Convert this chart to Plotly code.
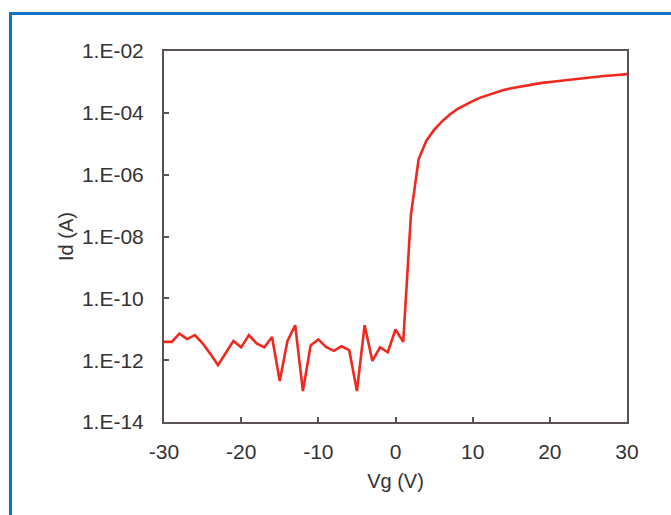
import plotly.graph_objects as go

vg = list(range(-30, 31))
id_a = [
    3.9e-12, 3.9e-12, 7.2e-12, 4.8e-12, 6.5e-12, 3.5e-12, 1.6e-12, 6.9e-13, 1.7e-12, 4.2e-12,
    2.6e-12, 6.5e-12, 3.5e-12, 2.6e-12, 5.6e-12, 2.1e-13, 4.2e-12, 1.35e-11, 1.0e-13, 3.0e-12,
    4.7e-12, 2.7e-12, 2.0e-12, 2.8e-12, 2.1e-12, 1.0e-13, 1.35e-11, 9.5e-13, 2.6e-12, 1.8e-12,
    9.8e-12, 3.9e-12, 5.0e-8, 3.2e-6, 1.26e-5, 2.8e-5, 5.2e-5, 8.7e-5, 1.32e-4, 1.82e-4,
    2.4e-4, 3.1e-4, 3.8e-4, 4.7e-4, 5.5e-4, 6.2e-4, 6.9e-4, 7.8e-4, 8.5e-4, 9.3e-4,
    1.0e-3, 1.07e-3, 1.15e-3, 1.23e-3, 1.32e-3, 1.41e-3, 1.48e-3, 1.55e-3, 1.62e-3, 1.70e-3,
    1.78e-3,
]

y_tickvals = [1e-14, 1e-12, 1e-10, 1e-8, 1e-6, 1e-4, 1e-2]
y_ticktext = ["1.E-14", "1.E-12", "1.E-10", "1.E-08", "1.E-06", "1.E-04", "1.E-02"]
x_tickvals = [-30, -20, -10, 0, 10, 20, 30]
x_ticktext = ["-30", "-20", "-10", "0", "10", "20", "30"]

axis_color = "#5a5252"
font = dict(family="Liberation Sans, Arial, sans-serif", size=21, color="#333333")
title_font = dict(family="Liberation Sans, Arial, sans-serif", size=20, color="#333333")

fig = go.Figure()
fig.add_trace(go.Scatter(
    x=vg, y=id_a, mode="lines",
    line=dict(color="rgb(240,40,30)", width=2.6),
    showlegend=False,
))

fig.update_layout(
    width=671, height=515,
    margin=dict(l=164, r=44, t=51, b=93),
    paper_bgcolor="white", plot_bgcolor="white",
    font=font,
    xaxis=dict(
        range=[-30, 30], tickvals=x_tickvals, ticktext=x_ticktext,
        ticks="inside", ticklen=5, tickwidth=1.5, tickcolor=axis_color,
        ticklabelstandoff=10,
        showline=True, linecolor=axis_color, linewidth=2, mirror=True,
        showgrid=False, zeroline=False,
        title=dict(text="Vg (V)", standoff=12, font=title_font),
    ),
    yaxis=dict(
        type="log", range=[-14, -2],
        tickvals=y_tickvals, ticktext=y_ticktext,
        ticks="inside", ticklen=5, tickwidth=1.5, tickcolor=axis_color,
        ticklabelstandoff=14,
        showline=True, linecolor=axis_color, linewidth=2, mirror=True,
        showgrid=False, zeroline=False,
        title=dict(text="Id (A)", standoff=3, font=title_font),
    ),
    shapes=[dict(
        type="rect", xref="paper", yref="paper",
        x0=-0.3315, x1=1.2, y0=-0.4, y1=1.101,
        line=dict(color="#1570c3", width=3),
        fillcolor="rgba(0,0,0,0)", layer="below",
    )],
)

fig.write_html("out.html", config={"displayModeBar": False},
               post_script="document.body.style.margin='0';")
